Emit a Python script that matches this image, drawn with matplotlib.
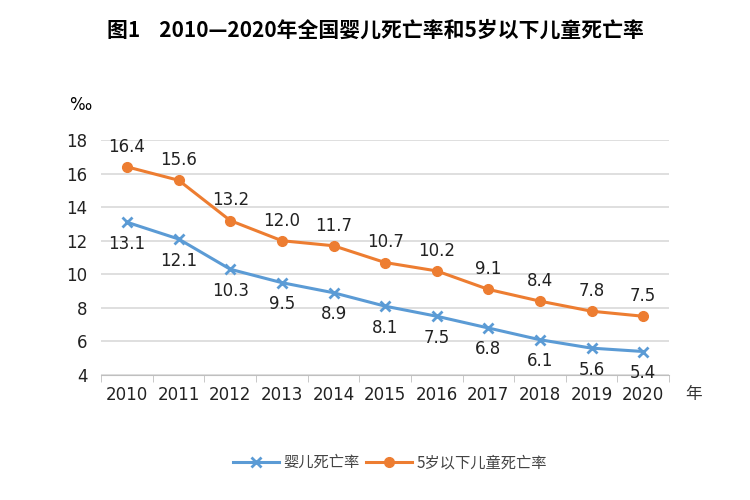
import matplotlib
matplotlib.use("Agg")
import matplotlib.pyplot as plt
import numpy as np

plt.rcParams["font.family"] = ["Noto Sans CJK SC", "DejaVu Sans"]

years = ["2010", "2011", "2012", "2013", "2014", "2015",
         "2016", "2017", "2018", "2019", "2020"]
infant_rate = [13.1, 12.1, 10.3, 9.5, 8.9, 8.1, 7.5, 6.8, 6.1, 5.6, 5.4]
under5_rate = [16.4, 15.6, 13.2, 12.0, 11.7, 10.7, 10.2, 9.1, 8.4, 7.8, 7.5]
y_ticks = [4, 6, 8, 10, 12, 14, 16, 18]

blue = "#5B9BD5"
orange = "#ED7D31"
num_font = ["DejaVu Sans"]

fig = plt.figure(figsize=(7.5, 5), dpi=100)
ax = fig.add_axes([0.135, 0.25, 0.757, 0.47])

x = np.arange(len(years))

ax.plot(x, infant_rate, color=blue, linewidth=2.2, marker="x",
        markersize=7, markeredgewidth=2, label="婴儿死亡率")
ax.plot(x, under5_rate, color=orange, linewidth=2.2, marker="o",
        markersize=7, label="5岁以下儿童死亡率")

for i in range(len(years)):
    ax.annotate(f"{under5_rate[i]:.1f}", (x[i], under5_rate[i]),
                xytext=(0, 8), textcoords="offset points",
                ha="center", va="bottom", fontsize=12, color="#222222",
                family=num_font)
    ax.annotate(f"{infant_rate[i]:.1f}", (x[i], infant_rate[i]),
                xytext=(0, -9), textcoords="offset points",
                ha="center", va="top", fontsize=12, color="#222222",
                family=num_font)

ax.set_xlim(-0.5, len(years) - 0.5)
ax.set_ylim(4, 18)
ax.set_yticks(y_ticks)
ax.set_xticks(x)
ax.set_xticklabels(years)
ax.set_xticks(np.arange(-0.5, len(years), 1), minor=True)
ax.tick_params(axis="x", which="major", length=0, pad=8, labelsize=12)
ax.tick_params(axis="x", which="minor", length=5, color="#bfbfbf")
ax.tick_params(axis="y", length=0, pad=10, labelsize=12)
for lbl in ax.get_xticklabels() + ax.get_yticklabels():
    lbl.set_family(num_font)
    lbl.set_color("#222222")

ax.grid(axis="y", color="#d9d9d9", linewidth=1.2)
ax.set_axisbelow(True)
for side in ["top", "right", "left"]:
    ax.spines[side].set_visible(False)
ax.spines["bottom"].set_color("#bfbfbf")

fig.text(0.107, 0.79, "‰", fontsize=12, ha="center", va="center",
         family=num_font)
fig.text(0.925, 0.21, "年", fontsize=12, ha="center", va="center",
         color="#333333")

fig.text(0.5, 0.94, "图1    2010—2020年全国婴儿死亡率和5岁以下儿童死亡率",
         fontsize=15, fontweight="bold", ha="center", va="center")

fig.legend(loc="center", bbox_to_anchor=(0.52, 0.075), ncol=2,
           frameon=False, fontsize=11, handlelength=3, columnspacing=0.4,
           handletextpad=0.3, labelcolor="#444444")

fig.savefig("out.png", dpi=100)
